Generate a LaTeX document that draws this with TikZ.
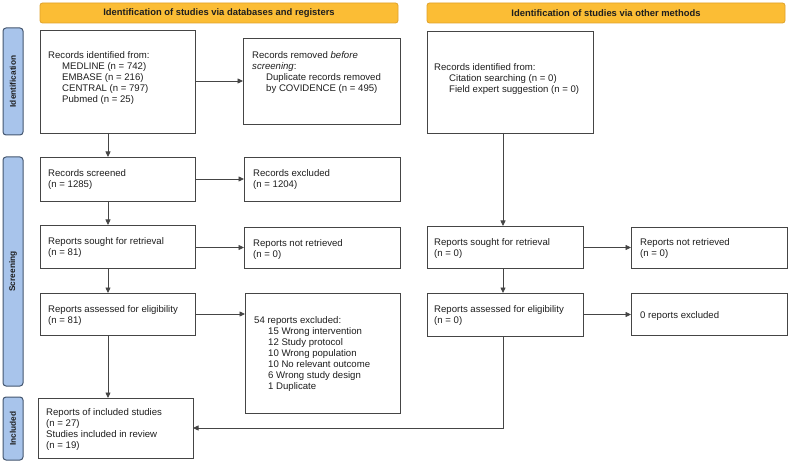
\documentclass[tikz,border=0pt]{standalone}
\usepackage{fontspec}
\setmainfont{Liberation Sans}
\usetikzlibrary{arrows.meta,fit}
\definecolor{hdrfill}{HTML}{FBBD35}
\definecolor{hdrdraw}{HTML}{DFA12A}
\definecolor{barfill}{HTML}{A8C4EB}
\definecolor{bardraw}{HTML}{44566F}
\definecolor{boxdraw}{HTML}{454545}
\definecolor{txtcol}{HTML}{1E1E1E}
\begin{document}
\begin{tikzpicture}[x=1pt,y=-1pt,
  box/.style={draw=boxdraw,line width=0.9pt,fill=white,inner sep=0pt,outer sep=0pt},
  hdr/.style={draw=hdrdraw,line width=0.8pt,fill=hdrfill,rounded corners=2.5pt,inner sep=0pt},
  hdrlbl/.style={font=\fontsize{9.4}{11}\selectfont\bfseries,text=txtcol,inner sep=0pt},
  bar/.style={draw=bardraw,line width=1pt,fill=barfill,rounded corners=3pt,inner sep=0pt},
  barlbl/.style={rotate=90,font=\fontsize{8.3}{10}\selectfont\bfseries,text=txtcol,inner sep=0pt},
  txt/.style={anchor=north west,align=left,inner sep=0pt,font=\fontsize{9.6}{10.9}\selectfont,text=txtcol},
  arr/.style={draw=boxdraw,line width=0.75pt,-{Triangle[length=5.5pt,width=5pt]}}]
\useasboundingbox (0,0) rectangle (789,462);
% headers
\node[hdr,fit={(40,3)(398,23)}] (h1) {};
\node[hdrlbl] (h1t) at (h1.center) {Identification of studies via databases and registers};
\node[hdr,fit={(427,3)(785,23)}] (h2) {};
\node[hdrlbl] (h2t) at (h2.center) {Identification of studies via other methods};
% side bars
\node[bar,fit={(3,28)(23,135)}] (s1) {};
\node[barlbl] (s1t) at (s1.center) {Identification};
\node[bar,fit={(3,157)(23,386)}] (s2) {};
\node[barlbl] (s2t) at (s2.center) {Screening};
\node[bar,fit={(3,397)(23,460)}] (s3) {};
\node[barlbl] (s3t) at (s3.center) {Included};
% boxes
\node[box,fit={(40,30)(195,133)}] (A) {};
\node[box,fit={(243,38)(400,124)}] (B) {};
\node[box,fit={(427,31)(593,133)}] (C) {};
\node[box,fit={(40,157)(195,201)}] (D) {};
\node[box,fit={(244,157)(400,201)}] (E) {};
\node[box,fit={(40,225)(195,268)}] (F) {};
\node[box,fit={(244,227)(400,268)}] (G) {};
\node[box,fit={(427,226)(583,268)}] (H) {};
\node[box,fit={(631,227)(787,268)}] (I) {};
\node[box,fit={(40,293)(195,335)}] (J) {};
\node[box,fit={(245,293)(400,413)}] (K) {};
\node[box,fit={(427,293)(583,336)}] (L) {};
\node[box,fit={(631,293)(787,335)}] (M) {};
\node[box,fit={(38,398)(193,458)}] (N) {};
% texts
\node[txt] (At) at (48,51.6) {Records identified from:\\\hspace*{14pt}MEDLINE (n = 742)\\\hspace*{14pt}EMBASE (n = 216)\\\hspace*{14pt}CENTRAL (n = 797)\\\hspace*{14pt}Pubmed (n = 25)};
\node[txt] (Bt) at (252,51.6) {Records removed \textit{before}\\\textit{screening}:\\\hspace*{14pt}Duplicate records removed\\\hspace*{14pt}by COVIDENCE (n = 495)};
\node[txt] (Ct) at (434,63.6) {Records identified from:\\\hspace*{15pt}Citation searching (n = 0)\\\hspace*{15pt}Field expert suggestion (n = 0)};
\node[txt] (Dt) at (48,169.6) {Records screened\\(n = 1285)};
\node[txt] (Et) at (253,169.6) {Records excluded\\(n = 1204)};
\node[txt] (Ft) at (48,237.3) {Reports sought for retrieval\\(n = 81)};
\node[txt] (Gt) at (253,239.3) {Reports not retrieved\\(n = 0)};
\node[txt] (Ht) at (434,238.3) {Reports sought for retrieval\\(n = 0)};
\node[txt] (It) at (640,238.8) {Reports not retrieved\\(n = 0)};
\node[txt] (Jt) at (48,305.8) {Reports assessed for eligibility\\(n = 81)};
\node[txt] (Kt) at (254,316.6) {54 reports excluded:\\\hspace*{14pt}15 Wrong intervention\\\hspace*{14pt}12 Study protocol\\\hspace*{14pt}10 Wrong population\\\hspace*{14pt}10 No relevant outcome\\\hspace*{14pt}6 Wrong study design\\\hspace*{14pt}1 Duplicate};
\node[txt] (Lt) at (434,305.8) {Reports assessed for eligibility\\(n = 0)};
\node[txt] (Mt) at (640,311.6) {0 reports excluded};
\node[txt] (Nt) at (46,408.6) {Reports of included studies\\(n = 27)\\Studies included in review\\(n = 19)};
% column coordinates
\coordinate (cL) at (108,0);
\coordinate (cR) at (503,0);
% connectors
\draw[arr] (A.south -| cL) -- (D.north -| cL);
\draw[arr] (D.south -| cL) -- (F.north -| cL);
\draw[arr] (F.south -| cL) -- (J.north -| cL);
\draw[arr] (J.south -| cL) -- (N.north -| cL);
\draw[arr] (A.east |- B.west) -- (B.west);
\draw[arr] (D.east) -- (D.east -| E.west);
\draw[arr] (F.east |- G.west) -- (G.west);
\draw[arr] (J.east) -- (J.east -| K.west);
\draw[arr] (C.south -| cR) -- (H.north -| cR);
\draw[arr] (H.south -| cR) -- (L.north -| cR);
\draw[arr] (H.east |- I.west) -- (I.west);
\draw[arr] (L.east) -- (L.east -| M.west);
\draw[arr] (L.south -| cR) |- (N.east);
\end{tikzpicture}
\end{document}
